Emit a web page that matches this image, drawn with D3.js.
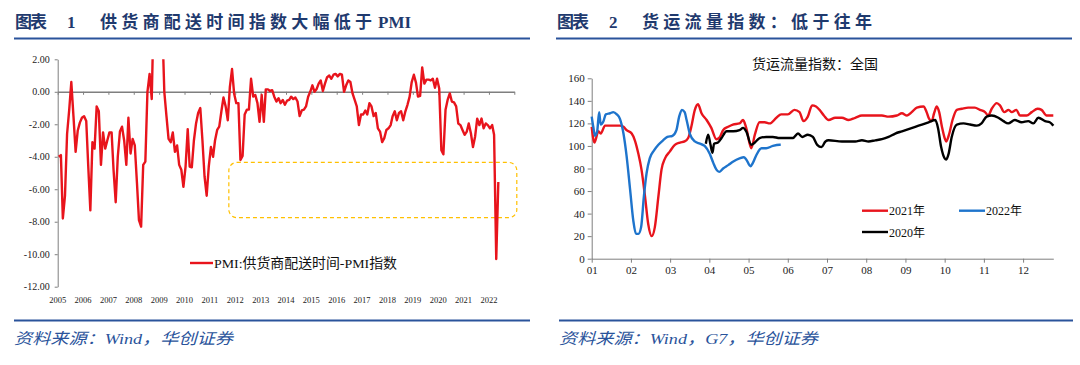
<!DOCTYPE html>
<html><head><meta charset="utf-8">
<script src="https://cdn.jsdelivr.net/npm/d3@7"></script>
<style>
body{margin:0;background:#fff}
svg text{font-family:"Liberation Serif","Noto Sans CJK SC",serif}
</style>
</head><body>
<svg id="c" width="1080" height="365"></svg>
<script>
// ---------- Chart 1 data: PMI supplier delivery time index minus PMI (monthly from 2005-01)
const pmiStartYear = 2005;
const pmiGap = [
-4.0,-3.9,-7.8,-6.4,-2.6,-1.1,0.6,-1.5,-3.7,-2.4,
-1.9,-1.6,-1.5,-1.8,-4.5,-7.3,-3.1,-3.5,-0.9,-1.2,
-4.5,-2.5,-3.5,-3.0,-2.5,-2.5,-4.8,-6.8,-4.0,-2.45,
-2.15,-3.0,-4.5,-1.6,-3.8,-2.9,-3.3,-5.6,-7.9,-8.3,
-4.5,-4.3,0.0,1.1,-0.45,5.5,9.0,11.0,8.0,4.0,
0.0,-1.5,-2.9,-3.1,-2.5,-3.7,-3.3,-4.5,-4.8,-5.85,
-4.6,-2.3,-4.6,-4.65,-3.0,-1.95,-1.3,-1.0,-3.0,-5.2,
-6.4,-4.6,-3.4,-4.0,-3.0,-2.35,-2.15,-1.2,-0.35,-0.9,
-1.75,0.3,1.4,-0.1,-0.7,-0.7,-4.2,-3.95,-1.4,-1.1,
-1.1,0.8,-0.3,-0.2,-0.7,-1.85,-0.2,-1.85,0.15,0.15,
0.05,0.1,-0.3,-0.6,-0.4,-0.7,-0.5,-0.8,-0.55,-0.5,
-0.3,-0.45,-0.35,-0.6,-1.5,-1.15,-1.1,-0.9,-0.3,0.0,
0.4,0.0,0.15,0.5,0.7,0.05,0.5,0.9,1.0,0.8,
1.05,1.1,0.95,1.1,1.05,0.0,0.4,0.7,0.6,-0.1,
-0.5,-0.9,-2.05,-1.4,-1.4,-1.15,-1.4,-0.7,-0.9,-1.5,
-1.3,-2.25,-2.45,-3.1,-2.85,-2.35,-2.25,-2.05,-1.5,-1.2,
-1.75,-1.3,-1.2,-1.75,-1.2,-0.8,-0.3,0.6,1.05,0.55,
-0.3,-0.25,1.5,0.5,0.75,0.75,0.7,0.8,0.25,0.8,
0.2,-3.6,-3.85,-1.1,-0.5,-0.1,-0.6,-0.65,-0.9,-1.95,
-2.05,-2.35,-2.65,-2.45,-1.95,-2.55,-3.4,-2.75,-1.65,-2.05,
-1.65,-2.25,-1.95,-2.05,-2.25,-2.05,-2.65,-10.3,-5.55
];
const pmiYearLabels = [2005,2006,2007,2008,2009,2010,2011,2012,2013,2014,2015,2016,2017,2018,2019,2020,2021,2022];
const pmiYTicks = [2,0,-2,-4,-6,-8,-10,-12];
const pmiLegend = "PMI:供货商配送时间-PMI指数";

// ---------- Chart 2 data: freight flow index (x = month position, 1 = "01")
const monthLabels = ["01","02","03","04","05","06","07","08","09","10","11","12"];
const freightYTicks = [0,20,40,60,80,100,120,140,160];
const f2021X = [1.00,1.07,1.17,1.23,1.34,1.72,1.81,1.89,2.02,2.10,2.19,2.27,2.36,2.44,2.53,2.61,2.70,2.78,2.87,2.99,3.12,3.25,3.37,3.46,3.54,3.63,3.71,3.80,3.93,4.05,4.18,4.27,4.35,4.48,4.60,4.77,4.86,4.94,5.07,5.16,5.28,5.41,5.54,5.71,5.83,6.00,6.17,6.30,6.40,6.51,6.62,6.72,6.81,6.92,7.04,7.21,7.38,7.55,7.72,7.89,8.15,8.40,8.57,8.78,8.91,9.04,9.16,9.29,9.46,9.54,9.59,9.67,9.73,9.80,9.86,9.93,10.00,10.04,10.11,10.20,10.31,10.44,10.60,10.77,10.90,11.03,11.11,11.20,11.33,11.41,11.52,11.63,11.71,11.83,11.92,12.09,12.22,12.37,12.47,12.60,12.68,12.77];
const f2021 = [117,103,113,111,118,118,117,114,111,105,93,79,55,31,20,28,55,79,89,95,101,103,104,107,117,132,137,129,123,116,106,108,114,117,119,120,123,116,98,110,121,121,120,125,128,128,132,130,122,126,136,135,132,127,123,125,125,123,125,127,127,127,126,127,129,127,130,134,135,130,125,122,129,135,130,117,107,104,110,123,132,133,134,134,132,130,127,133,138,136,130,132,130,132,127,127,130,133,132,127,127,127];
const f2022X = [1.00,1.04,1.085,1.14,1.19,1.23,1.30,1.36,1.47,1.55,1.64,1.72,1.81,1.89,1.98,2.06,2.13,2.19,2.26,2.33,2.40,2.48,2.59,2.70,2.82,2.93,3.06,3.16,3.23,3.30,3.37,3.42,3.50,3.63,3.76,3.88,4.01,4.10,4.18,4.25,4.35,4.48,4.60,4.77,4.88,4.94,5.05,5.11,5.20,5.33,5.45,5.62,5.79,5.82];
const f2022 = [126,117,109,113,130,119,122,128,129,130,128,124,111,91,61,34,22,22,28,55,76,89,96,101,105,108,109,114,126,132,130,123,111,104,102,100,93,85,79,77,80,83,86,89,90,88,82,85,92,98,98,100,101,101];
const f2020X = [3.91,3.97,4.03,4.08,4.12,4.22,4.31,4.44,4.61,4.77,4.86,4.94,5.07,5.16,5.28,5.45,5.62,5.79,5.96,6.13,6.26,6.37,6.51,6.64,6.75,6.86,6.96,7.04,7.38,7.72,7.89,8.06,8.23,8.40,8.57,8.74,8.91,9.08,9.25,9.42,9.59,9.76,9.83,9.91,10.00,10.04,10.10,10.18,10.31,10.48,10.65,10.82,10.94,11.07,11.20,11.37,11.50,11.62,11.79,11.96,12.13,12.26,12.39,12.56,12.68,12.77];
const f2020 = [102,110,101,94,102,103,107,113,113,114,116,113,101,103,107,108,108,107,107,107,111,108,110,108,101,99,104,105,104,104,105,104,105,106,108,111,113,115,117,119,121,123,116,99,89,88,93,108,119,120,119,118,120,126,127,125,122,120,123,121,122,120,125,122,121,118];
const freightLegend = ["2021年","2022年","2020年"];

const RED = "#e8141c", BLUE = "#1e74cc", BLACK = "#000000";
const NAVY = "#1f3a6e", RULE = "#2a539b";

const svg = d3.select("#c");

// ---------- Headers, rules, footers
function header(parts){
  const t = svg.append("text").attr("y", 28).attr("fill", NAVY)
    .attr("font-weight", "bold").attr("font-size", 17);
  parts.forEach(p => {
    const s = t.append("tspan").attr("x", p.x).text(p.t);
    if (p.len) s.attr("textLength", p.len).attr("lengthAdjust", "spacing");
  });
}
header([{x:15,t:"图表",len:32},{x:67,t:"1"},{x:100,t:"供货商配送时间指数大幅低于",len:272},{x:378,t:"PMI"}]);
header([{x:557,t:"图表",len:32},{x:609,t:"2"},{x:642,t:"货运流量指数：低于往年",len:230}]);

[[14,530,38.5],[556,1072,38.5],[14,530,320.5],[559,1073,320.5]].forEach(r=>{
  svg.append("line").attr("x1",r[0]).attr("x2",r[1]).attr("y1",r[2]).attr("y2",r[2])
    .attr("stroke",RULE).attr("stroke-width",2);
});
svg.append("text").attr("x",14).attr("y",344).attr("font-size",15.5).attr("font-style","italic")
  .attr("fill",RULE).attr("textLength",219).attr("lengthAdjust","spacingAndGlyphs").text("资料来源：Wind，华创证券");
svg.append("text").attr("x",559).attr("y",344).attr("font-size",15.5).attr("font-style","italic")
  .attr("fill",RULE).attr("textLength",259).attr("lengthAdjust","spacingAndGlyphs").text("资料来源：Wind，G7，华创证券");

// ---------- Chart 1
const x1 = d3.scaleTime().domain([new Date(pmiStartYear,0,1), new Date(2023,0,1)]).range([57.7, 514.3]);
const y1 = d3.scaleLinear().domain([-12, 2]).range([286.7, 59.3]);
const g1 = svg.append("g");

// dashed highlight box
g1.append("rect").attr("x", x1(new Date(2011,9,1))).attr("y", y1(-4.35))
  .attr("width", x1(new Date(2023,0,1)) - x1(new Date(2011,9,1)) + 2.5)
  .attr("height", y1(-7.75) - y1(-4.35)).attr("rx", 8).attr("ry", 8)
  .attr("fill","none").attr("stroke","#ffc000").attr("stroke-width",1.2).attr("stroke-dasharray","4,3");

const yAx1 = g1.append("g").attr("transform","translate(57.7,0)")
  .call(d3.axisLeft(y1).tickValues(pmiYTicks).tickFormat(d=>d.toFixed(2)).tickSize(3).tickSizeOuter(0).tickPadding(5));
yAx1.selectAll("text").attr("font-size",10).attr("fill","#222").attr("font-family","Liberation Serif");
yAx1.selectAll("path,line").attr("stroke","#7f7f7f");

const yearDates = pmiYearLabels.map(y=>new Date(y,0,1)).concat([new Date(2023,0,1)]);
const xAx1 = g1.append("g").attr("transform",`translate(0,${y1(0)})`)
  .call(d3.axisBottom(x1).tickValues(yearDates).tickFormat("").tickSize(3).tickSizeOuter(0));
xAx1.selectAll("path,line").attr("stroke","#7f7f7f");
xAx1.select("path").attr("stroke-width",1.5);

g1.selectAll("text.yr").data(pmiYearLabels).join("text").attr("class","yr")
  .attr("x", d=>x1(new Date(d,0,1))).attr("y", 303).attr("text-anchor","middle")
  .attr("font-size",8.5).attr("fill","#222").text(d=>String(d));

svg.append("clipPath").attr("id","clip1").append("rect")
  .attr("x",57).attr("y",y1(2)).attr("width",460).attr("height",y1(-12)-y1(2));
const line1 = d3.line().x((d,i)=>x1(new Date(pmiStartYear, i, 16))).y(d=>y1(d));
g1.append("path").datum(pmiGap).attr("d",line1).attr("clip-path","url(#clip1)")
  .attr("fill","none").attr("stroke",RED).attr("stroke-width",2.4).attr("stroke-linejoin","round");

g1.append("line").attr("x1",190).attr("x2",213).attr("y1",263).attr("y2",263).attr("stroke",RED).attr("stroke-width",2.4);
g1.append("text").attr("x",214).attr("y",268).attr("font-size",13.5).attr("fill","#111")
  .attr("textLength",183).attr("lengthAdjust","spacingAndGlyphs").text(pmiLegend);

// ---------- Chart 2
const x2 = d3.scaleLinear().domain([1, 12.77]).range([591.7, 1053.3]);
const y2 = d3.scaleLinear().domain([0, 160]).range([258.7, 78.3]);
const g2 = svg.append("g");

svg.append("text").attr("x",815).attr("y",69).attr("text-anchor","middle").attr("font-size",14)
  .attr("fill","#111").text("货运流量指数：全国");

const yAx2 = g2.append("g").attr("transform","translate(591.7,0)")
  .call(d3.axisLeft(y2).tickValues(freightYTicks).tickSize(4).tickSizeOuter(0).tickPadding(3));
yAx2.selectAll("text").attr("font-size",11).attr("fill","#222").attr("font-family","Liberation Serif");
yAx2.selectAll("path,line").attr("stroke","#7f7f7f");

const xAx2 = g2.append("g").attr("transform","translate(0,258.7)")
  .call(d3.axisBottom(x2).tickValues(d3.range(1,13)).tickFormat((d,i)=>monthLabels[i]).tickSize(4).tickSizeOuter(0).tickPadding(3.5));
xAx2.selectAll("text").attr("font-size",11).attr("fill","#222").attr("font-family","Liberation Serif");
xAx2.selectAll("path,line").attr("stroke","#7f7f7f");

const line2 = (xs) => d3.line().curve(d3.curveMonotoneX).x((d,i)=>x2(xs[i])).y(d=>y2(d));
[[f2021X,f2021,RED],[f2022X,f2022,BLUE],[f2020X,f2020,BLACK]].forEach(s=>{
  g2.append("path").datum(s[1]).attr("d",line2(s[0])).attr("fill","none")
    .attr("stroke",s[2]).attr("stroke-width",2.4).attr("stroke-linejoin","round");
});

[[862,210.7,RED,0],[959,210.7,BLUE,1],[862,232,BLACK,2]].forEach(l=>{
  g2.append("line").attr("x1",l[0]).attr("x2",l[0]+26).attr("y1",l[1]).attr("y2",l[1])
    .attr("stroke",l[2]).attr("stroke-width",2.4);
  g2.append("text").attr("x",l[0]+27).attr("y",l[1]+4.5).attr("font-size",12).attr("fill","#111")
    .text(freightLegend[l[3]]);
});
</script>
</body></html>
